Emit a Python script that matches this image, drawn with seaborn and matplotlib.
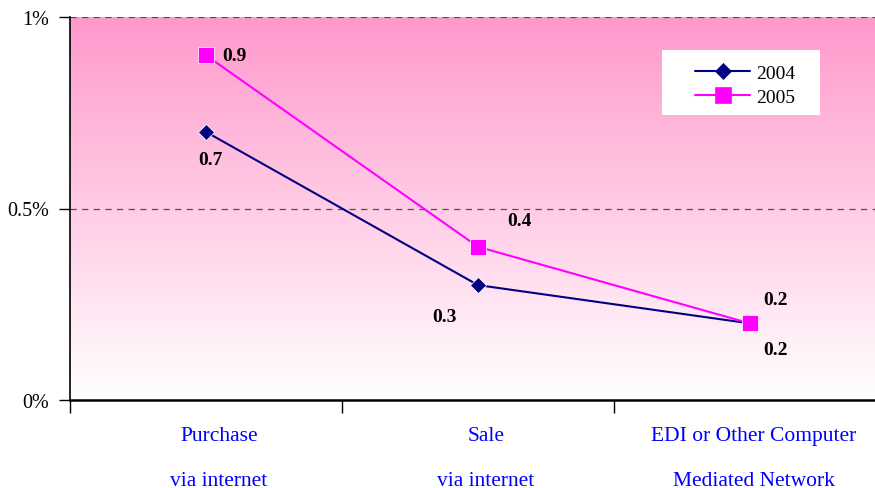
import numpy as np
import pandas as pd
import matplotlib
matplotlib.use("Agg")
import matplotlib.pyplot as plt
import matplotlib.transforms as mtransforms
from matplotlib.colors import LinearSegmentedColormap
from matplotlib.lines import Line2D
from matplotlib.patches import Rectangle
import seaborn as sns

categories = ["Purchase\nvia internet", "Sale\nvia internet", "EDI or Other Computer\nMediated Network"]
years = ["2004", "2005"]
values_2004 = [0.7, 0.3, 0.2]
values_2005 = [0.9, 0.4, 0.2]
y_ticks = [0, 0.5, 1.0]
y_tick_labels = ["0%", "0.5%", "1%"]

sns.set_theme(style="white")
plt.rcParams["font.family"] = ["Liberation Serif", "DejaVu Serif"]

rows = []
for i, c in enumerate(categories):
    rows.append({"pos": i, "year": "2004", "value": values_2004[i]})
    rows.append({"pos": i, "year": "2005", "value": values_2005[i]})
df = pd.DataFrame(rows)

W, H = 875, 489
fig = plt.figure(figsize=(W / 100, H / 100), dpi=100)
left, right, top, bottom = 70, 886, 18, 401
ax = fig.add_axes([left / W, 1 - bottom / H, (right - left) / W, (bottom - top) / H])

ax.set_xlim(-0.5, 2.5)
ax.set_ylim(0, 1.0)

# gradient background
cmap = LinearSegmentedColormap.from_list("pinkgrad", ["#FFFFFF", "#FF99CC"])
grad = np.linspace(0, 1, 256).reshape(-1, 1)
ax.imshow(grad, aspect="auto", cmap=cmap, origin="lower",
          extent=(-0.5, 2.5, 0, 1.0), zorder=0)

palette = {"2004": "#000080", "2005": "#FF00FF"}
markers = {"2004": "D", "2005": "s"}
msize = {"2004": 8.5, "2005": 11}
sns.lineplot(data=df, x="pos", y="value", hue="year", style="year",
             palette=palette, markers=markers, dashes=False, ax=ax,
             linewidth=1.5, markeredgewidth=0.5, legend=False, zorder=3)
for line in ax.lines:
    if line.get_marker() == "D":
        line.set_markersize(msize["2004"])
    else:
        line.set_markersize(msize["2005"])

# gridlines
for yv in [0.5, 1.0]:
    ax.axhline(yv, color="#505050", linestyle=(0, (5, 4.3)), linewidth=0.9, zorder=2)

# data labels
offsets_2004 = [(4, -28), (-34, -31), (26, -26)]
offsets_2005 = [(16, 0), (41, 26), (26, 24)]
for i in range(3):
    ax.annotate(f"{values_2004[i]:.1f}", (i, values_2004[i]), xytext=offsets_2004[i],
                textcoords="offset pixels", ha="center", va="center",
                fontsize=14, fontweight="bold", color="black", zorder=5)
    ha = "left" if i == 0 else "center"
    ax.annotate(f"{values_2005[i]:.1f}", (i, values_2005[i]), xytext=offsets_2005[i],
                textcoords="offset pixels", ha=ha, va="center",
                fontsize=14, fontweight="bold", color="black", zorder=5)

# ticks
ax.set_yticks(y_ticks)
ax.set_yticklabels(y_tick_labels, fontsize=14.5, color="black")
ax.set_xticks([-0.5, 0.5, 1.5, 2.5])
ax.set_xticklabels([])
ax.set_xticks([0, 1, 2], minor=True)
ax.set_xticklabels(categories, minor=True, fontsize=15.5, color="#0000FF", linespacing=2.8)
ax.tick_params(axis="x", which="major", direction="out", length=9, width=1, color="black", bottom=True)
ax.tick_params(axis="x", which="minor", length=0, pad=19, bottom=True)
ax.tick_params(axis="y", direction="out", length=8, width=1, color="black", left=True, pad=7)
label_shifts = [13, 8, 4]
for lbl, sh in zip(ax.get_xticklabels(minor=True), label_shifts):
    lbl.set_transform(lbl.get_transform() + mtransforms.ScaledTranslation(sh / 100, 0, fig.dpi_scale_trans))

ax.set_xlabel("")
ax.set_ylabel("")
for s in ["top", "right"]:
    ax.spines[s].set_visible(False)
ax.spines["left"].set_color("black")
ax.spines["left"].set_linewidth(1.2)
ax.spines["bottom"].set_color("black")
ax.spines["bottom"].set_linewidth(1.8)
ax.spines["left"].set_zorder(4)
ax.spines["bottom"].set_zorder(4)

# legend: white box + frameless legend
box = Rectangle((662 / W, 1 - 116 / H), (820 - 662) / W, (116 - 51) / H,
                transform=fig.transFigure, facecolor="white", edgecolor="none", zorder=6)
ax.add_artist(box)
box.set_clip_on(False)
handles = [Line2D([], [], color=palette[y], marker=markers[y], linewidth=1.5,
                  markersize=msize[y], markeredgewidth=0.5) for y in years]
leg = ax.legend(handles, years, loc="center left",
                bbox_to_anchor=(695 / W, 1 - 86 / H), bbox_transform=fig.transFigure,
                borderaxespad=0, borderpad=0, frameon=False, fontsize=14,
                handlelength=2.85, handletextpad=0.3, labelspacing=0.35)
leg.set_zorder(7)
for t in leg.get_texts():
    t.set_color("black")

fig.savefig("out.png", dpi=100)
